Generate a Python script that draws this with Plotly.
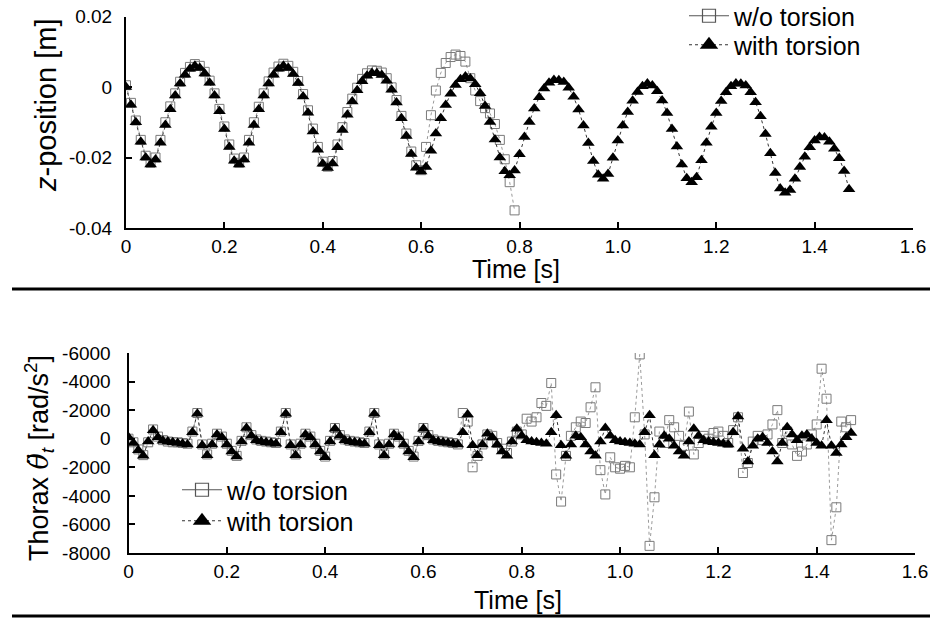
import plotly.graph_objects as go

# ---------------- data ----------------
# sampling times [s] (10 ms sampling grid)
time_with = [round(i * 0.01, 2) for i in range(148)]
time_wo_z = [round(i * 0.01, 2) for i in range(80)]

# z-position [m], with torsion
z_with = [
    0.0000, -0.0050, -0.0100, -0.0155, -0.0200, -0.0220, -0.0206, -0.0158, -0.0108, -0.0063,
    -0.0024, 0.0010, 0.0035, 0.0052, 0.0060, 0.0054, 0.0038, 0.0012, -0.0024, -0.0069,
    -0.0119, -0.0170, -0.0209, -0.0220, -0.0206, -0.0158, -0.0108, -0.0063, -0.0024, 0.0010,
    0.0035, 0.0052, 0.0060, 0.0054, 0.0037, 0.0011, -0.0027, -0.0073, -0.0126, -0.0178,
    -0.0218, -0.0230, -0.0217, -0.0171, -0.0122, -0.0079, -0.0041, -0.0009, 0.0016, 0.0032,
    0.0040, 0.0039, 0.0034, 0.0018, -0.0008, -0.0044, -0.0089, -0.0139, -0.0190, -0.0229,
    -0.0240, -0.0227, -0.0181, -0.0132, -0.0089, -0.0051, -0.0019, 0.0006, 0.0022, 0.0030,
    0.0024, 0.0008, -0.0018, -0.0054, -0.0099, -0.0149, -0.0200, -0.0239, -0.0250, -0.0237,
    -0.0191, -0.0142, -0.0099, -0.0061, -0.0029, -0.0004, 0.0012, 0.0020, 0.0019, 0.0014,
    -0.0002, -0.0028, -0.0064, -0.0109, -0.0159, -0.0210, -0.0249, -0.0260, -0.0247, -0.0201,
    -0.0152, -0.0109, -0.0071, -0.0039, -0.0014, 0.0002, 0.0010, 0.0004, -0.0012, -0.0038,
    -0.0074, -0.0119, -0.0169, -0.0220, -0.0259, -0.0270, -0.0256, -0.0208, -0.0158, -0.0113,
    -0.0074, -0.0040, -0.0015, 0.0002, 0.0010, 0.0009, 0.0004, -0.0015, -0.0043, -0.0083,
    -0.0133, -0.0188, -0.0244, -0.0288, -0.0300, -0.0292, -0.0260, -0.0227, -0.0198, -0.0171,
    -0.0152, -0.0142, -0.0143, -0.0155, -0.0175, -0.0202, -0.0238, -0.0290,
]

# z-position [m], without torsion (ends at ~0.79 s)
z_wo = [
    0.0005, -0.0045, -0.0095, -0.0150, -0.0195, -0.0215, -0.0200, -0.0150, -0.0100, -0.0055,
    -0.0018, 0.0015, 0.0040, 0.0057, 0.0065, 0.0060, 0.0043, 0.0018, -0.0018, -0.0062,
    -0.0112, -0.0163, -0.0203, -0.0215, -0.0200, -0.0150, -0.0100, -0.0056, -0.0018, 0.0016,
    0.0041, 0.0058, 0.0066, 0.0060, 0.0043, 0.0017, -0.0020, -0.0066, -0.0118, -0.0170,
    -0.0212, -0.0226, -0.0210, -0.0163, -0.0114, -0.0071, -0.0033, -0.0002, 0.0023, 0.0039,
    0.0047, 0.0046, 0.0041, 0.0025, -0.0001, -0.0037, -0.0082, -0.0132, -0.0183, -0.0222,
    -0.0236, -0.0170, -0.0080, -0.0010, 0.0040, 0.0068, 0.0085, 0.0092, 0.0088, 0.0072,
    0.0025, -0.0010, -0.0040, -0.0060, -0.0075, -0.0105, -0.0150, -0.0205, -0.0270, -0.0350,
]

# thorax angular acceleration [rad/s^2], with torsion
acc_with = [
    100, -300, -800, -1200, -200, 600, 100, -150, -200, -250,
    -300, -350, -400, 450, 1750, -450, -1150, -400, 300, 100,
    -400, -900, -1250, -200, 750, 200, -100, -200, -250, -300,
    -350, 450, 1750, -450, -1150, -400, 300, 100, -400, -900,
    -1300, -200, 700, 200, -100, -200, -250, -300, -350, 450,
    1750, -450, -1150, -400, 300, 100, -400, -900, -1300, -200,
    700, 200, -100, -200, -250, -300, -350, -400, 450, 1700,
    -450, -1150, -400, 350, 100, -400, -900, -1200, -200, 700,
    200, -100, -200, -250, -300, -350, 450, 1650, -450, -1200,
    -400, 200, 100, -400, -900, -1200, -200, 750, 200, -100,
    -200, -250, -300, -350, -400, 450, 1650, -1150, -400, 200,
    0, -500, -900, -1200, -200, 700, 200, -100, -200, -250,
    -300, -350, -400, 450, 1550, -700, -1600, -500, 0, 100,
    -300, -900, -1600, -300, 800, 300, -100, 200, 300, 0,
    -300, -500, 1300, -500, -1000, -400, 100, 400,
]

# thorax angular acceleration [rad/s^2], without torsion
acc_wo = [
    0, -250, -750, -1150, -250, 650, 150, -100, -200, -250,
    -250, -300, -350, 500, 1800, -400, -1100, -350, 350, 150,
    -350, -850, -1200, -150, 800, 250, -50, -150, -200, -250,
    -300, 500, 1800, -400, -1100, -350, 350, 150, -350, -850,
    -1250, -150, 750, 250, -50, -150, -200, -250, -300, 500,
    1800, -400, -1100, -350, 350, 150, -350, -850, -1250, -150,
    750, 250, -50, -150, -200, -250, -300, -400, 1800, 1200,
    -2000, -1200, -400, 300, 200, -300, -700, -1000, -200, 500,
    300, 1400, 1200, 1500, 2500, 2300, 3900, -2500, -4400, -1200,
    200, 800, 1200, 1100, 2200, 3600, -2200, -3900, -1300, -2000,
    -2100, -1900, -2000, 1500, 5900, 300, -7500, -4100, 500, -300,
    1300, 800, 200, -500, 1900, -1100, -300, 200, 0, 400,
    500, 200, -300, 600, 1500, -2400, -1700, -200, 200, -100,
    300, 1000, 2000, -300, 500, -400, -1200, -900, -400, 300,
    1000, 4900, 2800, -7100, -4800, 1200, 800, 1300,
]

x_ticks = [0, 0.2, 0.4, 0.6, 0.8, 1.0, 1.2, 1.4, 1.6]
x_ticktext = ["0", "0.2", "0.4", "0.6", "0.8", "1.0", "1.2", "1.4", "1.6"]
z_ticks = [-0.04, -0.02, 0, 0.02]
z_ticktext = ["-0.04", "-0.02", "0", "0.02"]
acc_ticks = [6000, 4000, 2000, 0, -2000, -4000, -6000, -8000]
acc_ticktext = ["-6000", "-4000", "-2000", "0", "-2000", "-4000", "-6000", "-8000"]

series_names = ["w/o torsion", "with torsion"]

# ---------------- figure ----------------
W, H = 930, 619
FONT = "Liberation Sans, Arial, sans-serif"


def px_x(v):
    return v / W


def px_y(v):
    return 1 - v / H


wo_marker = dict(symbol="square-open", size=9, color="#7a7a7a", line=dict(width=1, color="#7a7a7a"))
wo_line = dict(color="#9a9a9a", width=1, dash="dot")
w_marker = dict(symbol="triangle-up", size=11, color="black")
w_line = dict(color="#333333", width=1, dash="dot")

fig = go.Figure()
fig.add_trace(go.Scatter(x=time_wo_z, y=z_wo, name=series_names[0], mode="lines+markers",
                         marker=wo_marker, line=wo_line, xaxis="x", yaxis="y", showlegend=False))
fig.add_trace(go.Scatter(x=time_with, y=z_with, name=series_names[1], mode="lines+markers",
                         marker=w_marker, line=w_line, xaxis="x", yaxis="y", showlegend=False))
fig.add_trace(go.Scatter(x=time_with, y=acc_wo, name=series_names[0], mode="lines+markers",
                         marker=wo_marker, line=wo_line, xaxis="x2", yaxis="y2", showlegend=False))
fig.add_trace(go.Scatter(x=time_with, y=acc_with, name=series_names[1], mode="lines+markers",
                         marker=w_marker, line=w_line, xaxis="x2", yaxis="y2", showlegend=False))

# legend entries (larger legend symbols, as in the original), one legend per row
leg_wo_marker = dict(symbol="square-open", size=13, color="#555555", line=dict(width=1.2, color="#555555"))
leg_wo_line = dict(color="#555555", width=1.2)
leg_w_marker = dict(symbol="triangle-up", size=16, color="black")
leg_w_line = dict(color="#333333", width=1.2, dash="dot")
for lg_wo, lg_w, xa, ya in (("legend", "legend3", "x", "y"), ("legend2", "legend4", "x2", "y2")):
    fig.add_trace(go.Scatter(x=[None], y=[None], name=series_names[0], mode="lines+markers",
                             marker=leg_wo_marker, line=leg_wo_line, xaxis=xa, yaxis=ya, legend=lg_wo))
    fig.add_trace(go.Scatter(x=[None], y=[None], name=series_names[1], mode="lines+markers",
                             marker=leg_w_marker, line=leg_w_line, xaxis=xa, yaxis=ya, legend=lg_w))

axis_common = dict(showline=True, linecolor="black", linewidth=2, ticks="inside", ticklen=6,
                   tickwidth=2, tickcolor="black", showgrid=False, zeroline=False,
                   ticklabeloverflow="allow",
                   tickfont=dict(family=FONT, size=19, color="black"), automargin=False)

LEG_FS = 25
legend_common = dict(xanchor="left", yanchor="top", font=dict(family=FONT, size=LEG_FS, color="black"),
                     bgcolor="rgba(0,0,0,0)", tracegroupgap=0, itemwidth=40)
ROW_OFF = 24  # distance from legend top to row centre

fig.update_layout(
    width=W, height=H,
    margin=dict(l=0, r=0, t=0, b=0, autoexpand=False),
    paper_bgcolor="white", plot_bgcolor="white",
    font=dict(family=FONT, color="black"),
    xaxis=dict(domain=[px_x(126), px_x(913)], range=[0, 1.6], tickvals=x_ticks, ticktext=x_ticktext,
               anchor="y", ticklabelstandoff=0, **axis_common),
    yaxis=dict(domain=[px_y(228), px_y(16.5)], range=[-0.04, 0.02], tickvals=z_ticks,
               ticktext=z_ticktext, anchor="x", ticklabelstandoff=8, **axis_common),
    xaxis2=dict(domain=[px_x(128.5), px_x(915)], range=[0, 1.6], tickvals=x_ticks, ticktext=x_ticktext,
                anchor="y2", ticklabelstandoff=0, **axis_common),
    yaxis2=dict(domain=[px_y(553), px_y(353)], range=[-8000, 6000], tickvals=acc_ticks,
                ticktext=acc_ticktext, anchor="x2", ticklabelstandoff=12, **axis_common),
    legend=dict(x=px_x(684), y=px_y(17 - ROW_OFF), **legend_common),
    legend3=dict(x=px_x(684), y=px_y(46 - ROW_OFF), **legend_common),
    legend2=dict(x=px_x(177), y=px_y(491 - ROW_OFF), **legend_common),
    legend4=dict(x=px_x(177), y=px_y(522 - ROW_OFF), **legend_common),
    showlegend=True,
    shapes=[
        dict(type="line", xref="paper", yref="paper", x0=px_x(12), x1=1, y0=px_y(289), y1=px_y(289),
             line=dict(color="black", width=3)),
        dict(type="line", xref="paper", yref="paper", x0=px_x(12), x1=1, y0=px_y(616), y1=px_y(616),
             line=dict(color="black", width=3)),
    ],
    annotations=[
        dict(text="Time [s]", xref="paper", yref="paper", x=px_x(516), y=px_y(269),
             xanchor="center", yanchor="middle", showarrow=False, font=dict(family=FONT, size=25)),
        dict(text="Time [s]", xref="paper", yref="paper", x=px_x(518), y=px_y(600),
             xanchor="center", yanchor="middle", showarrow=False, font=dict(family=FONT, size=25)),
        dict(text="<i>z</i>-position [m]", xref="paper", yref="paper", x=px_x(46), y=px_y(106),
             xanchor="center", yanchor="middle", showarrow=False, textangle=-90,
             font=dict(family=FONT, size=29)),
        dict(text="Thorax <span style=\"font-family:'DejaVu Serif';font-style:italic\">θ̈</span>"
                  "<sub><i>t</i></sub> [rad/s<sup>2</sup>]",
             xref="paper", yref="paper",
             x=px_x(39), y=px_y(458), xanchor="center", yanchor="middle", showarrow=False,
             textangle=-90, font=dict(family=FONT, size=27)),
    ],
)

# the page's default 8 px body margin is removed so the 930x619 figure fills the window
fig.write_html("out.html", config={"displayModeBar": False, "staticPlot": True},
               post_script="document.body.style.margin='0px';")
